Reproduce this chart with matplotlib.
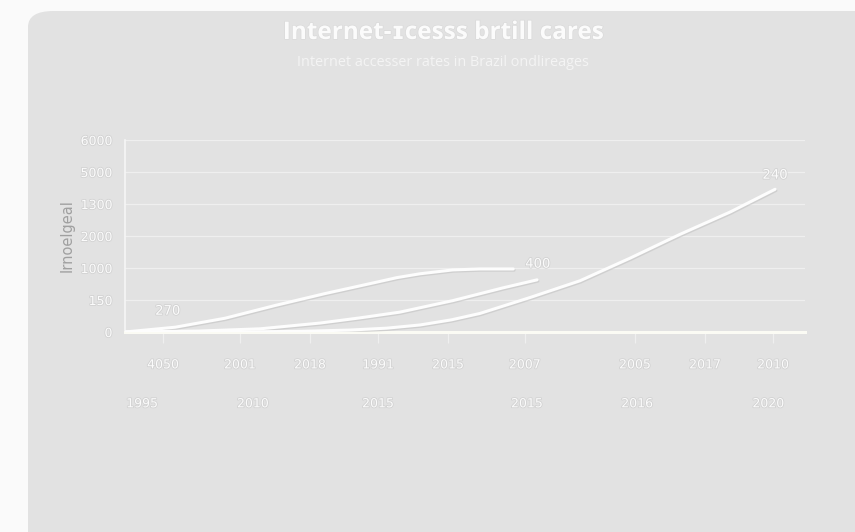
import numpy as np
import matplotlib
matplotlib.use('Agg')
import matplotlib.pyplot as plt
import matplotlib.patheffects as pe
from matplotlib.patches import FancyBboxPatch

# datos (x en 0-100, y en unidades de la escala 0-6)
x_a = [0, 7.4, 14.7, 22.1, 29.4, 36.0, 40.0, 43.4, 48.2, 52.2, 57.1]
y_a = [0, 0.15, 0.43, 0.83, 1.20, 1.51, 1.70, 1.82, 1.94, 1.97, 1.97]

x_b = [0, 11.0, 19.9, 28.7, 34.5, 40.4, 48.2, 55.6, 60.6]
y_b = [0, 0.03, 0.10, 0.28, 0.44, 0.62, 0.98, 1.38, 1.63]

x_c = [0, 15.0, 25.7, 33.0, 38.5, 43.4, 48.0, 52.2, 59.6, 66.9, 74.3, 81.6, 89.0, 95.6]
y_c = [0, 0.0, 0.02, 0.06, 0.12, 0.22, 0.38, 0.58, 1.08, 1.60, 2.31, 3.05, 3.75, 4.46]

labels_txt = ['270', '400', '240']
labels_x = [6.3, 60.7, 95.6]
labels_y = [0.65, 2.12, 4.90]

y_ticks = [0, 1, 2, 3, 4, 5, 6]
y_ticklabels = ['0', '150', '1000', '2000', '1300', '5000', '6000']

x_top = [5.6, 16.9, 27.2, 37.2, 47.5, 58.8, 75.0, 85.3, 95.3]
x_top_labels = ['4050', '2001', '2018', '1991', '2015', '2007', '2005', '2017', '2010']
x_bot = [2.5, 18.8, 37.2, 59.1, 75.3, 94.6]
x_bot_labels = ['1995', '2010', '2015', '2015', '2016', '2020']

bg = '#e2e2e2'
txt = '#fbfbfb'
emb = [pe.withStroke(linewidth=1.2, foreground='#d2d2d2')]

fig = plt.figure(figsize=(8.55, 5.32), dpi=100)
fig.patch.set_facecolor('#fafafa')
panel = FancyBboxPatch((28 / 855, -0.05), 1.2, 1 - 11 / 532 + 0.05,
                       boxstyle='round,pad=0,rounding_size=0.03',
                       transform=fig.transFigure, facecolor=bg,
                       edgecolor='none', zorder=-5)
fig.patches.append(panel)

ax = fig.add_axes([125 / 855, 1 - 332 / 532, 680 / 855, 192 / 532])
ax.set_facecolor('none')
ax.set_xlim(0, 100)
ax.set_ylim(0, 6)

shadow = [pe.SimpleLineShadow(offset=(0.6, -0.9), shadow_color='#bdbdbd', alpha=0.5), pe.Normal()]
for xs, ys in [(x_a, y_a), (x_b, y_b), (x_c, y_c)]:
    ax.plot(xs, ys, color='#fdfdfd', lw=2.2, solid_capstyle='round',
            solid_joinstyle='round', path_effects=shadow, zorder=3)

for t, xv, yv in zip(labels_txt, labels_x, labels_y):
    ax.text(xv, yv, t, color=txt, fontsize=9.5, ha='center', va='center',
            path_effects=emb, zorder=4)

ax.set_yticks(y_ticks)
ax.set_yticklabels(y_ticklabels)
ax.grid(axis='y', color='#efefef', lw=0.9)
ax.set_axisbelow(True)

ax.xaxis.remove_overlapping_locs = False
ax.set_xticks(x_top)
ax.set_xticklabels(x_top_labels)
ax.set_xticks(x_bot, minor=True)
ax.set_xticklabels(x_bot_labels, minor=True)
ax.tick_params(axis='x', which='major', length=8, width=0.9, color='#efefef',
               pad=11, labelsize=9, labelcolor=txt)
ax.tick_params(axis='x', which='minor', length=0, pad=47, labelsize=9, labelcolor=txt)
ax.tick_params(axis='y', length=0, pad=9, labelsize=9, labelcolor=txt)
for lab in ax.get_xticklabels() + ax.get_xticklabels(minor=True) + ax.get_yticklabels():
    lab.set_path_effects(emb)

for s in ['top', 'right']:
    ax.spines[s].set_visible(False)
ax.spines['left'].set_color('#f6f6f6')
ax.spines['left'].set_linewidth(1.2)
ax.spines['bottom'].set_color('#fbfbf4')
ax.spines['bottom'].set_linewidth(2.2)

ax.set_ylabel('Irnoelgeal', color='#a0a0a0', fontsize=10.5, labelpad=4)

fig.text(443 / 855, 1 - 33 / 532, 'Internet-\u026acesss brtill cares', ha='center', va='center',
         color='#fbfbfb', fontsize=17.5, fontweight='bold', family=['Open Sans', 'DejaVu Sans'],
         path_effects=[pe.withStroke(linewidth=1, foreground='#dadada')])
fig.text(443 / 855, 1 - 62 / 532, 'Internet accesser rates in Brazil ondlireages', ha='center',
         va='center', color='#f4f4f4', fontsize=10.4, family='Open Sans')

fig.savefig('out.png', dpi=100, facecolor=fig.get_facecolor())
